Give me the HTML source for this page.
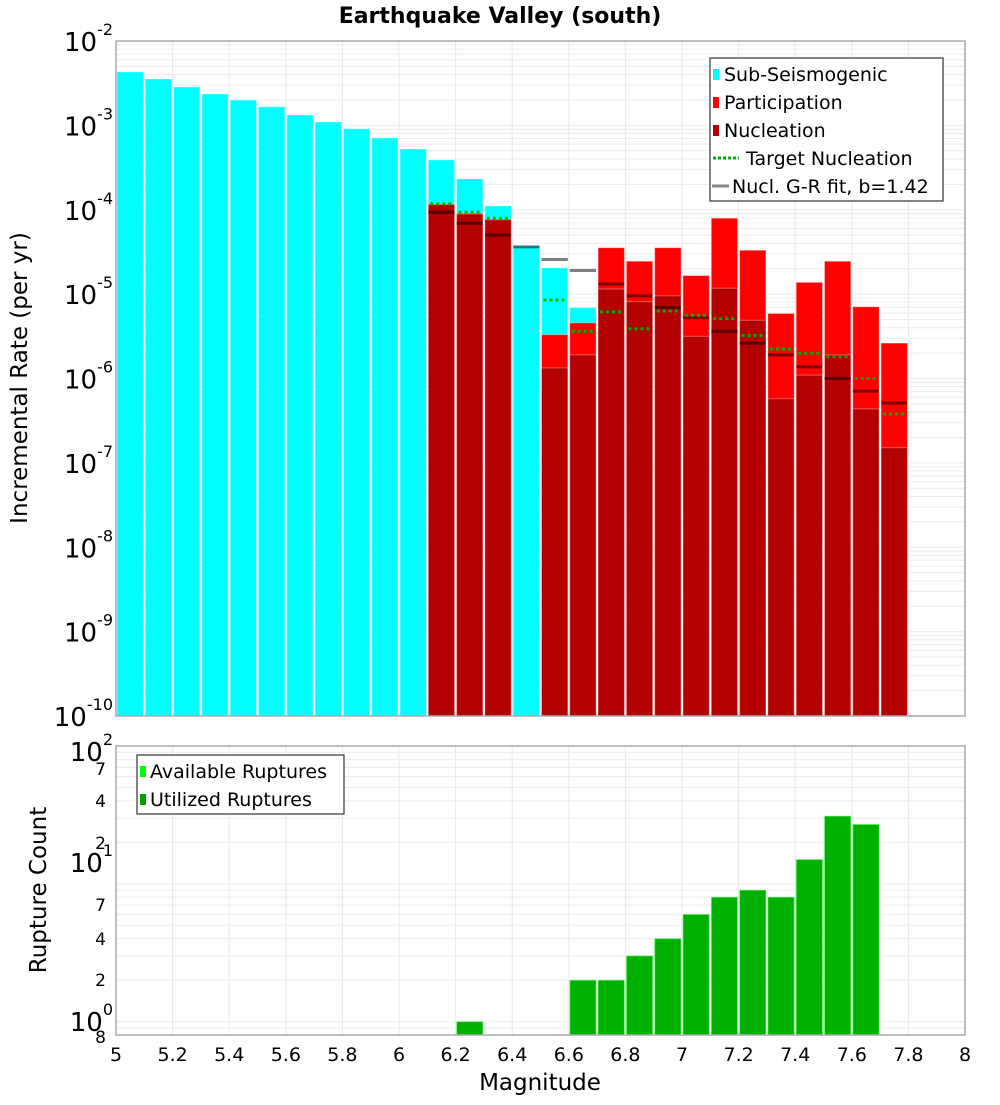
<!DOCTYPE html>
<html><head><meta charset="utf-8"><style>
body{margin:0;background:#fff;}
svg text{font-family:"DejaVu Sans","Liberation Sans",sans-serif;}
</style></head><body>
<svg id="c" width="1000" height="1100" xmlns="http://www.w3.org/2000/svg">
<text x="500" y="23" text-anchor="middle" font-size="22" font-weight="bold">Earthquake Valley (south)</text>
<g id="top"></g>
<g id="bot"></g>
<text transform="translate(27,378) rotate(-90)" text-anchor="middle" font-size="23">Incremental Rate (per yr)</text>
<text transform="translate(46,890) rotate(-90)" text-anchor="middle" font-size="23">Rupture Count</text>
<text x="540" y="1090" text-anchor="middle" font-size="23">Magnitude</text>
</svg>
<script>
const bins=[5.05,5.15,5.25,5.35,5.45,5.55,5.65,5.75,5.85,5.95,6.05,6.15,6.25,6.35,6.45,6.55,6.65,6.75,6.85,6.95,7.05,7.15,7.25,7.35,7.45,7.55,7.65,7.75];
// log10 values, null = absent
const subSeis=[-2.367,-2.45,-2.545,-2.628,-2.70,-2.78,-2.877,-2.96,-3.04,-3.15,-3.28,-3.41,-3.635,-3.955,-4.43,-4.69,-5.16,null,null,null,null,null,null,null,null,null,null,null];
const partic=[null,null,null,null,null,null,null,null,null,null,null,-3.93,-4.04,-4.11,null,-5.48,-5.34,-4.45,-4.61,-4.45,-4.78,-4.10,-4.48,-5.23,-4.86,-4.61,-5.15,-5.58];
const nucl=[null,null,null,null,null,null,null,null,null,null,null,-3.94,-4.05,-4.12,null,-5.875,-5.72,-4.94,-5.09,-5.02,-5.50,-4.93,-5.31,-6.24,-5.96,-5.72,-6.36,-6.82];
const target=[null,null,null,null,null,null,null,null,null,null,null,-3.93,-4.03,-4.10,null,-5.07,-5.44,-5.21,-5.41,-5.20,-5.25,-5.29,-5.49,-5.65,-5.70,-5.74,-6.00,-6.42];
const grFit=[null,null,null,null,null,null,null,null,null,null,null,-4.03,-4.16,-4.30,-4.44,-4.59,-4.72,-4.88,-5.02,-5.16,-5.28,-5.44,-5.58,-5.72,-5.86,-6.00,-6.15,-6.29];
const ruptures=[0,0,0,0,0,0,0,0,0,0,0,0,1,0,0,0,2,2,3,4,6,8,9,8,15,31,27,0];
const xTicks=[5,5.2,5.4,5.6,5.8,6,6.2,6.4,6.6,6.8,7,7.2,7.4,7.6,7.8,8];
const topExps=[-2,-3,-4,-5,-6,-7,-8,-9,-10];

const NS="http://www.w3.org/2000/svg";
function el(parent,tag,attrs){const e=document.createElementNS(NS,tag);for(const k in attrs)e.setAttribute(k,attrs[k]);parent.appendChild(e);return e;}
const X0=116,X1=965;
const xs=m=>X0+(m-5)/3*(X1-X0);
const T0=41,T1=716;
const ty=l=>T0+(-2-l)/8*(T1-T0);
const B0=746,B1=1035,bMin=Math.log10(0.8),bMax=2;
const by=c=>B1-(Math.log10(c)-bMin)/(bMax-bMin)*(B1-B0);

const gTop=document.getElementById('top'),gBot=document.getElementById('bot');
function grids(g,y0,y1,ylines){
  for(const t of xTicks){const l=el(g,'line',{x1:xs(t),x2:xs(t),y1:y0,y2:y1,stroke:'#e8e8e8','stroke-width':1});
  
  }
  for(const y of ylines){const l=el(g,'line',{x1:X0,x2:X1,y1:y,y2:y,stroke:'#ececec','stroke-width':1});
  
  }
}
const tl=[];for(let e=-10;e<-2;e++)for(let k=1;k<10;k++)tl.push(ty(e+Math.log10(k)));
grids(gTop,T0,T1,tl);
const bl=[];for(let e=-1;e<2;e++)for(let k=1;k<10;k++){const v=k*Math.pow(10,e);if(v>=0.8&&v<=100)bl.push(by(v));}
grids(gBot,B0,B1,bl);

const bw=(X1-X0)/30;
function bar(g,m,l,fill,name){if(l===null)return;const y=ty(l);
  const r=el(g,'rect',{x:xs(m)-bw/2+1,y:y,width:bw-2,height:T1-y,fill:fill,stroke:'rgba(255,255,255,0.35)','stroke-width':1});
  
  }
bins.forEach((m,i)=>bar(gTop,m,subSeis[i],'#00ffff','sub-seismogenic-bar'));
bins.forEach((m,i)=>bar(gTop,m,partic[i],'#ff0000','participation-bar'));
bins.forEach((m,i)=>bar(gTop,m,nucl[i],'#b30000','nucleation-bar'));
bins.forEach((m,i)=>{if(grFit[i]===null)return;const y=ty(grFit[i]);
  const l=el(gTop,'line',{x1:xs(m)-bw/2+1,x2:xs(m)+bw/2-1,y1:y,y2:y,stroke:'#808080','stroke-width':3,style:'mix-blend-mode:multiply'});
  
  });
bins.forEach((m,i)=>{if(target[i]===null)return;const y=ty(target[i]);
  const l=el(gTop,'line',{x1:xs(m)-bw/2+3,x2:xs(m)+bw/2-3,y1:y,y2:y,stroke:'#00b000','stroke-width':3,'stroke-dasharray':'3,3'});
  
  });
bins.forEach((m,i)=>{const c=ruptures[i];if(!c)return;const y=by(c);
  const r=el(gBot,'rect',{x:xs(m)-bw/2+1,y:y,width:bw-2,height:B1-y,fill:'#00b000',stroke:'rgba(120,255,120,0.6)','stroke-width':1});
  
  });

[[T0,T1],[B0,B1]].forEach(([a,b])=>{const r=el(document.getElementById('c'),'rect',{x:X0,y:a,width:X1-X0,height:b-a,fill:'none',stroke:'#aaa','stroke-width':1.5});

});

function powLabel(g,yb,exp,name){const t=el(g,'text',{x:113,y:yb,'text-anchor':'end','font-size':26});
  
  
  const a=el(t,'tspan',{});a.textContent='10';const b=el(t,'tspan',{'font-size':16,dy:-16});b.textContent=String(exp);}
topExps.forEach(e=>powLabel(gTop,ty(e)+10,e,'y-tick-label'));
powLabel(gBot,761,2,'y-tick-label');powLabel(gBot,872,1,'y-tick-label');powLabel(gBot,1031,0,'y-tick-label');
const minorLbl=[['7',775],['4',807],['2',849],['7',911],['4',945],['2',986],['8',1043]];
minorLbl.forEach(([s,y])=>{const t=el(gBot,'text',{x:106,y:y,'text-anchor':'end','font-size':17});t.textContent=s;

});
xTicks.forEach(v=>{const t=el(gBot,'text',{x:xs(v),y:1061,'text-anchor':'middle','font-size':19});t.textContent=String(v);

});

function legend(g,x,y,w,h,items,name){const lg=el(g,'g',{});
  
  
  el(lg,'rect',{x:x,y:y,width:w,height:h,fill:'#fff',stroke:'#333','stroke-width':1.2});
  items.forEach((it,i)=>{const cy=y+16+i*28;
    if(it.type==='sq')el(lg,'rect',{x:x+3,y:cy-5,width:6,height:11,fill:it.c});
    else if(it.type==='dot')el(lg,'line',{x1:x+3,x2:x+29,y1:cy,y2:cy,stroke:it.c,'stroke-width':3,'stroke-dasharray':'3,2'});
    else el(lg,'line',{x1:x+2,x2:x+19,y1:cy,y2:cy,stroke:it.c,'stroke-width':3});
    const t=el(lg,'text',{x:x+it.tx,y:cy+7,'font-size':19});t.textContent=it.t;
    
    });}
legend(gTop,710,58,233,143,[
 {type:'sq',c:'#00ffff',t:'Sub-Seismogenic',tx:14},
 {type:'sq',c:'#ff0000',t:'Participation',tx:14},
 {type:'sq',c:'#b30000',t:'Nucleation',tx:14},
 {type:'dot',c:'#00b000',t:'Target Nucleation',tx:36},
 {type:'ln',c:'#888',t:'Nucl. G-R fit, b=1.42',tx:22}],'rate-legend');
legend(gBot,137,755,207,59,[
 {type:'sq',c:'#00ff00',t:'Available Ruptures',tx:13},
 {type:'sq',c:'#00a000',t:'Utilized Ruptures',tx:13}],'count-legend');
</script>
</body></html>
